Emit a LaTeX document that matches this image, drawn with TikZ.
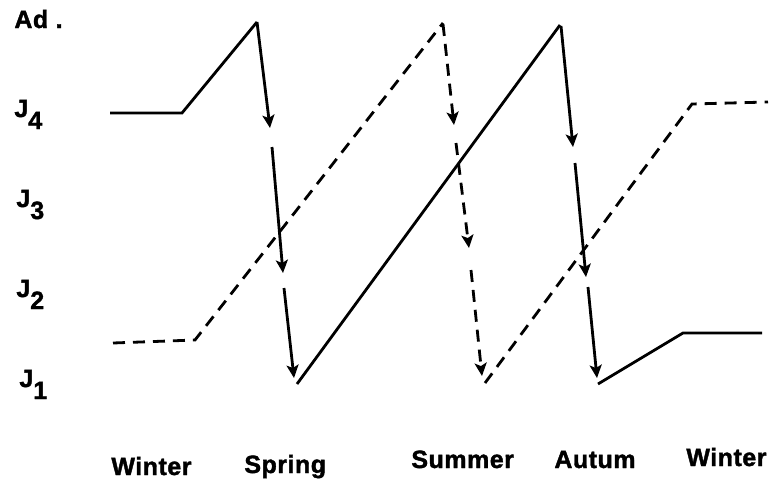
\documentclass[tikz,border=0pt]{standalone}
\usepackage{fontspec}
\newfontfamily\lblfont{Liberation Sans Bold}[LetterSpace=2,FakeBold=1.5]
\usetikzlibrary{arrows.meta}

\newcommand{\jlab}[1]{J\raisebox{-12pt}{#1}}

\tikzset{
    lbl/.style={inner sep=0pt, anchor=base west, font=\fontsize{25}{29}\lblfont},
    gap/.style={dash pattern=on 12pt off 8pt}
}

\begin{document}
\begin{tikzpicture}[x=1pt, y=-1pt, line width=2.8pt, >={Stealth[length=13pt,width=12pt,inset=3pt]}]
        \useasboundingbox (0,0) rectangle (774,480);

        % axis labels
        \node[lbl] (ad) at (13,28) {Ad .};
        \node[lbl] (j4) at (13,117) {\jlab{4}};
        \node[lbl] (j3) at (15,207) {\jlab{3}};
        \node[lbl] (j2) at (15,297) {\jlab{2}};
        \node[lbl] (j1) at (18,387) {\jlab{1}};

        \node[lbl] (win1) at (110,475) {Winter};
        \node[lbl] (spr) at (243,473) {Spring};
        \node[lbl] (sum) at (410,468) {Summer};
        \node[lbl] (aut) at (553,468) {Autum};
        \node[lbl] (win2) at (685,466) {Winter};

        % solid generation
        \draw (110,113) -- (182,113) -- (257,22);
        \draw[->] (257,22) -- (270,128);
        \draw[->] (272,147) -- (283,273);
        \draw[->] (284,288) -- (294,378);
        \draw (297,384) -- (560,25);
        \draw[->] (561,26) -- (573,147);
        \draw[->] (575,163) -- (586,277);
        \draw[->] (588,287) -- (597,378);
        \draw (598,384) -- (683,333) -- (762,333);

        % dashed generation
        \draw[gap] (113,343) -- (195,340) -- (443,23);
        \draw[gap, ->] (443,24) -- (454,125);
        \draw[gap, ->] (456,143) -- (469,248);
        \draw[gap, ->] (471,270) -- (482,376);
        \draw[gap] (485,383) -- (692,104) -- (768,102);
    \end{tikzpicture}
\end{document}
